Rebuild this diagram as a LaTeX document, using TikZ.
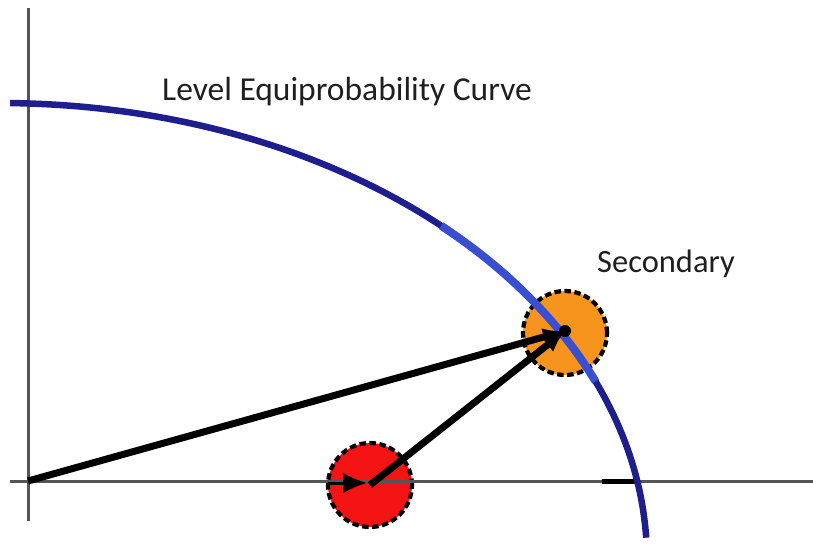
\documentclass[tikz,border=0pt]{standalone}
\usepackage{fontspec}
\setmainfont{Carlito}
\usetikzlibrary{arrows.meta,positioning,calc}
\definecolor{curveblue}{HTML}{1E1E8C}
\definecolor{brightblue}{HTML}{3A4ED2}
\definecolor{primred}{HTML}{F41414}
\definecolor{secorange}{HTML}{F7941D}
\definecolor{axisgray}{HTML}{555555}

\begin{document}
\begin{tikzpicture}[x=1pt, y=-1pt, >={Latex[length=22pt,width=18pt]},
  axis/.style={draw=axisgray, line width=3pt},
  blob/.style={circle, draw=black, line width=4.2pt, dash pattern=on 6.5pt off 3.5pt, minimum size=84pt, inner sep=0pt},
  vec/.style={->, line width=7pt, black},
  label/.style={font=\fontsize{33.5}{38}\selectfont, text=black!88, inner sep=0pt}]
  \useasboundingbox (0,0) rectangle (813,547);
  % points
  \coordinate (O) at (28,481);
  \node[blob, fill=primred] (prim) at (370,485) {};
  \node[blob, fill=secorange] (sec) at (565,333) {};
  \coordinate (tip) at (565,331);
  % axes
  \draw[axis] (28,8) -- (28,521);
  \draw[axis] (10,481) -- (813,481);
  \draw[line width=5pt] (602,481) -- (638,481);
  % equiprobability curve (ellipse round (0,560))
  \draw[curveblue, line width=6.5pt] plot[domain=2.8:89.1, samples=100, variable=\t] ({647*cos(\t)}, {560-457*sin(\t)});
  \draw[brightblue, line width=8pt] plot[domain=23:47, samples=30, variable=\t] ({647*cos(\t)}, {560-457*sin(\t)});
  % vectors
  \draw[vec] (O) -- (tip);
  \draw[vec] (prim.center) -- (tip);
  \draw[->, >={Latex[length=24pt,width=21pt]}, black, line width=3pt] ($(prim.center)+(-42,-2)$) -- ($(prim.center)+(-3,-2)$);
  \fill (tip) circle (6pt);
  % labels
  \node[label, anchor=base west] (title) at (162,100) {Level Equiprobability Curve};
  \node[label, anchor=base west, font=\fontsize{32.5}{36}\selectfont] (seclabel) at (597,272) {Secondary};
\end{tikzpicture}
\end{document}
